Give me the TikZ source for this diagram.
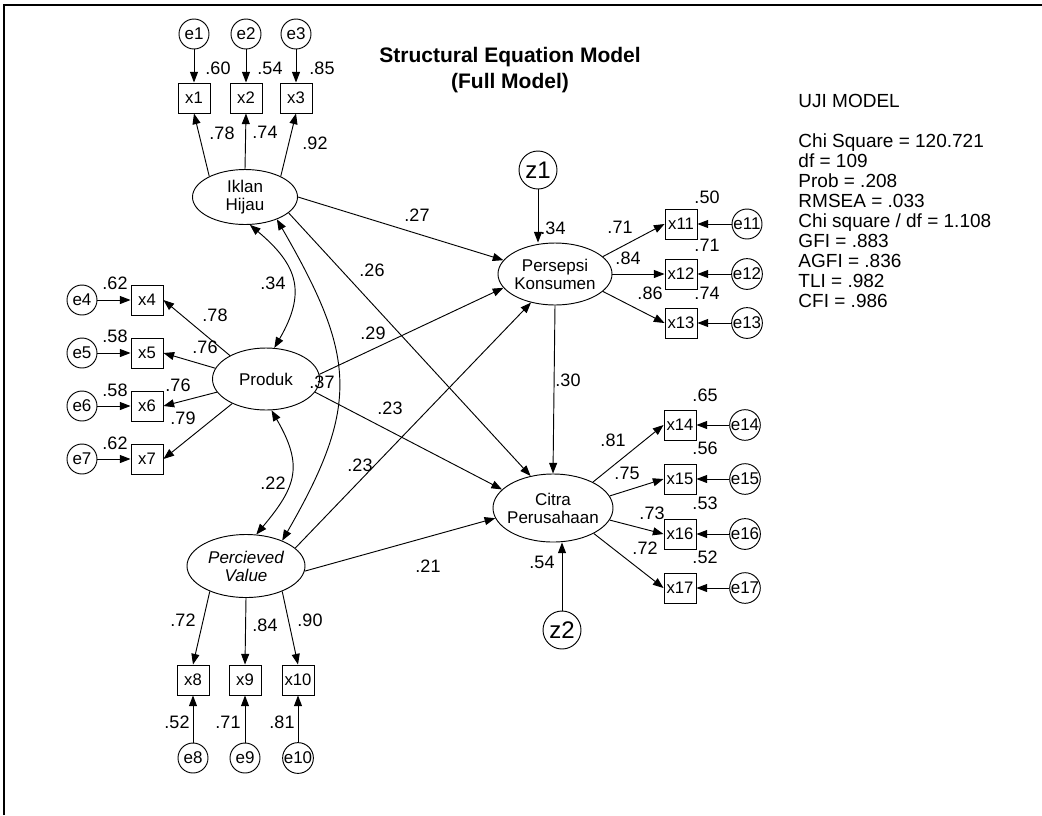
\documentclass[tikz,border=0pt]{standalone}
\usepackage{fontspec}
\setmainfont{Liberation Sans}
\usetikzlibrary{shapes.geometric,arrows.meta}
\tikzstyle{lat}=[ellipse, draw, inner sep=-3pt, align=center, font=\fontsize{12.75}{13.5}\selectfont]
\tikzstyle{obs}=[rectangle, draw, inner sep=0pt, minimum width=24pt, minimum height=22.5pt, font=\fontsize{12.5}{12.5}\selectfont]
\tikzstyle{err}=[circle, draw, inner sep=0pt, minimum size=22.5pt, font=\fontsize{12.75}{13}\selectfont]
\tikzstyle{res}=[circle, draw, inner sep=0pt, minimum size=28.5pt, font=\fontsize{18}{18}\selectfont]
\tikzstyle{num}=[inner sep=0pt, font=\fontsize{13.5}{14}\selectfont]
\tikzstyle{reg}=[-{Triangle[length=8pt,width=6pt]}]
\tikzstyle{cov}=[{Triangle[length=8pt,width=6pt]}-{Triangle[length=8pt,width=6pt]}]

\begin{document}
\begin{tikzpicture}[x=0.75pt, y=-0.75pt, line width=0.7pt]
\useasboundingbox (0,0) rectangle (1042,815);
\draw[line width=1.5pt] (4,815) -- (4,5) -- (1042,5);

\node[font=\bfseries\fontsize{15.75}{19}\selectfont, align=center] (title) at (510,70) {Structural Equation Model\\(Full Model)};
\node[font=\fontsize{14.25}{15}\selectfont, align=left, anchor=north west, inner sep=0pt] (fit) at (798,93.5) {UJI MODEL\\[15pt]Chi Square = 120.721\\df = 109\\Prob = .208\\RMSEA = .033\\Chi square / df = 1.108\\GFI = .883\\AGFI = .836\\TLI = .982\\CFI = .986};

% latent variables
\node[lat, minimum width=78.75pt, minimum height=41.25pt] (iklan) at (245,197) {Iklan\\Hijau};
\node[lat, minimum width=80.25pt, minimum height=46.5pt] (produk) at (266,379) {Produk};
\node[lat, minimum width=88.5pt, minimum height=47.25pt] (percieved) at (246,566) {\itshape Percieved\\\itshape Value};
\node[lat, minimum width=85.5pt, minimum height=46.5pt] (persepsi) at (555,274) {Persepsi\\Konsumen};
\node[lat, minimum width=90pt, minimum height=51pt] (citra) at (553,508) {Citra\\Perusahaan};
\node[res] (z1) at (538,170) {z1};
\node[res] (z2) at (562,630) {z2};

% indicators of Iklan Hijau
\node[obs] (x1) at (194,98) {x1};
\node[obs] (x2) at (246,98) {x2};
\node[obs] (x3) at (296,98) {x3};
\node[err] (e1) at (194,34) {e1};
\node[err] (e2) at (246,34) {e2};
\node[err] (e3) at (296,34) {e3};

% indicators of Produk
\node[obs] (x4) at (147,300) {x4};
\node[obs] (x5) at (147,353) {x5};
\node[obs] (x6) at (147,406) {x6};
\node[obs] (x7) at (147,459) {x7};
\node[err] (e4) at (82,300) {e4};
\node[err] (e5) at (82,353) {e5};
\node[err] (e6) at (82,406) {e6};
\node[err] (e7) at (82,459) {e7};

% indicators of Percieved Value
\node[obs] (x8) at (193,680) {x8};
\node[obs] (x9) at (245,680) {x9};
\node[obs] (x10) at (298,680) {x10};
\node[err] (e8) at (193,758) {e8};
\node[err] (e9) at (245,758) {e9};
\node[err] (e10) at (298,758) {e10};

% indicators of Persepsi Konsumen
\node[obs] (x11) at (681,224) {x11};
\node[obs] (x12) at (681,274) {x12};
\node[obs] (x13) at (681,323) {x13};
\node[err] (e11) at (747,224) {e11};
\node[err] (e12) at (747,274) {e12};
\node[err] (e13) at (747,323) {e13};

% indicators of Citra Perusahaan
\node[obs] (x14) at (680,425) {x14};
\node[obs] (x15) at (680,479) {x15};
\node[obs] (x16) at (680,534) {x16};
\node[obs] (x17) at (680,588) {x17};
\node[err] (e14) at (745,425) {e14};
\node[err] (e15) at (745,479) {e15};
\node[err] (e16) at (745,534) {e16};
\node[err] (e17) at (745,588) {e17};

% measurement arrows
\draw[reg] (e1) -- (x1);
\draw[reg] (e2) -- (x2);
\draw[reg] (e3) -- (x3);
\draw[reg] (iklan.150) -- (x1.south);
\draw[reg] (iklan.north) -- (x2.south);
\draw[reg] (iklan.30) -- (x3.south);
\draw[reg] (e4) -- (x4);
\draw[reg] (e5) -- (x5);
\draw[reg] (e6) -- (x6);
\draw[reg] (e7) -- (x7);
\draw[reg] (produk.147) -- (x4.east);
\draw[reg] (produk.168) -- (x5.east);
\draw[reg] (produk.195) -- (x6.east);
\draw[reg] (produk.216) -- (x7.east);
\draw[reg] (e8) -- (x8);
\draw[reg] (e9) -- (x9);
\draw[reg] (e10) -- (x10);
\draw[reg] (percieved.-145) -- (x8.north);
\draw[reg] (percieved.south) -- (x9.north);
\draw[reg] (percieved.-35) -- (x10.north);
\draw[reg] (e11) -- (x11);
\draw[reg] (e12) -- (x12);
\draw[reg] (e13) -- (x13);
\draw[reg] (persepsi.20) -- (x11.west);
\draw[reg] (persepsi.east) -- (x12.west);
\draw[reg] (persepsi.-20) -- (x13.west);
\draw[reg] (e14) -- (x14);
\draw[reg] (e15) -- (x15);
\draw[reg] (e16) -- (x16);
\draw[reg] (e17) -- (x17);
\draw[reg] (citra.33) -- (x14.west);
\draw[reg] (citra.12) -- (x15.west);
\draw[reg] (citra.-12) -- (x16.west);
\draw[reg] (citra.-32) -- (x17.west);

% structural paths
\draw[reg] (iklan.east) -- (persepsi.165);
\draw[reg] (iklan.-20) -- (citra.125);
\draw[reg] (produk.5) -- (persepsi.195);
\draw[reg] (produk.-15) -- (citra.160);
\draw[reg] (percieved.20) -- (persepsi.-130);
\draw[reg] (percieved.-5) -- (citra.190);
\draw[reg] (persepsi.south) -- (citra.north);
\draw[reg] (z1.south) -- (z1.south |- persepsi.north);
\draw[reg] (z2.north) -- (z2.north |- citra.south);

% covariances
\draw[cov] (iklan.-80) to[out=-40, in=60, looseness=1.3] (produk.75);
\draw[cov] (produk.-80) to[out=-60, in=50, looseness=1.3] (percieved.72);
\draw[cov] (iklan.-35) to[out=-60, in=60, looseness=1.25] (percieved.35);

% estimates
\node[num] (sq1) at (218,68) {.60};
\node[num] (sq2) at (270,68) {.54};
\node[num] (sq3) at (322,68) {.85};
\node[num] (ld1) at (222,133) {.78};
\node[num] (ld2) at (265,132) {.74};
\node[num] (ld3) at (315,143) {.92};
\node[num] (sq4) at (115,283) {.62};
\node[num] (sq5) at (115,336) {.58};
\node[num] (sq6) at (115,390) {.58};
\node[num] (sq7) at (115,443) {.62};
\node[num] (ld4) at (215,315) {.78};
\node[num] (ld5) at (205,347) {.76};
\node[num] (ld6) at (178,385) {.76};
\node[num] (ld7) at (183,418) {.79};
\node[num] (c1) at (273,283) {.34};
\node[num] (c2) at (273,483) {.22};
\node[num] (c3) at (322,382) {.37};
\node[num] (ld8) at (183,620) {.72};
\node[num] (ld9) at (265,625) {.84};
\node[num] (ld10) at (310,620) {.90};
\node[num] (sq8) at (177,722) {.52};
\node[num] (sq9) at (228,722) {.71};
\node[num] (sq10) at (282,722) {.81};
\node[num] (b1) at (417,215) {.27};
\node[num] (b2) at (372,270) {.26};
\node[num] (b3) at (373,333) {.29};
\node[num] (b4) at (390,408) {.23};
\node[num] (b5) at (360,465) {.23};
\node[num] (b6) at (428,566) {.21};
\node[num] (b7) at (568,380) {.30};
\node[num] (sqz1) at (553,228) {.34};
\node[num] (sqz2) at (542,562) {.54};
\node[num] (sq11) at (707,197) {.50};
\node[num] (sq12) at (707,245) {.71};
\node[num] (sq13) at (707,293) {.74};
\node[num] (ld11) at (620,227) {.71};
\node[num] (ld12) at (628,258) {.84};
\node[num] (ld13) at (650,293) {.86};
\node[num] (sq14) at (705,395) {.65};
\node[num] (sq15) at (705,448) {.56};
\node[num] (sq16) at (705,503) {.53};
\node[num] (sq17) at (705,557) {.52};
\node[num] (ld14) at (613,440) {.81};
\node[num] (ld15) at (627,473) {.75};
\node[num] (ld16) at (652,513) {.73};
\node[num] (ld17) at (645,548) {.72};
\end{tikzpicture}
\end{document}
